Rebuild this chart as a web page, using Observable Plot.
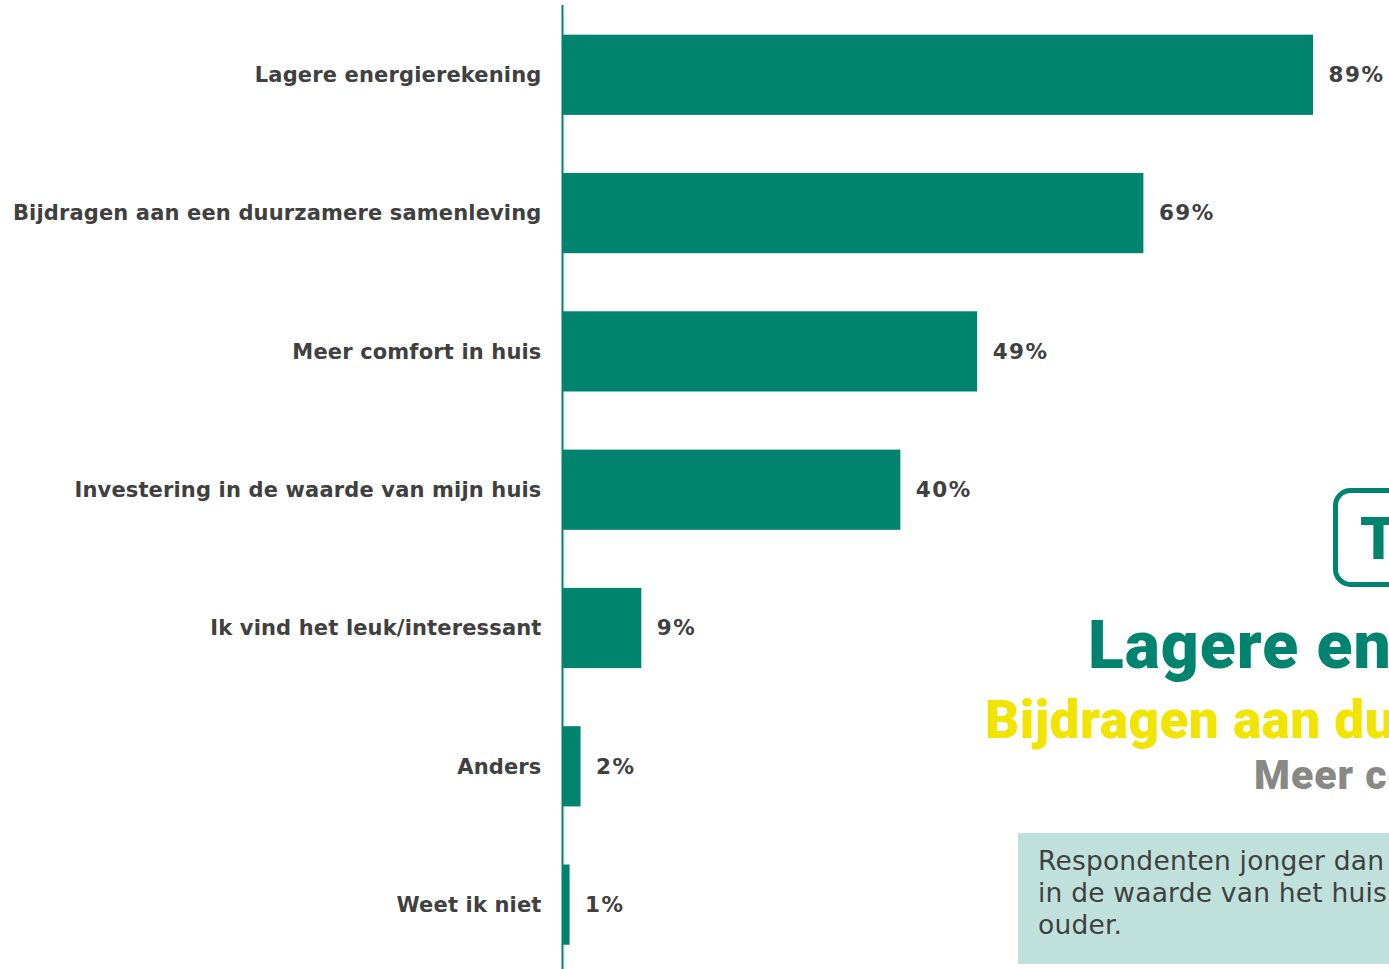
<!DOCTYPE html>
<html>
<head>
<meta charset="utf-8">
<script src="https://cdn.jsdelivr.net/npm/d3@7"></script>
<script src="https://cdn.jsdelivr.net/npm/@observablehq/plot@0.6"></script>
<style>
  html, body { margin: 0; padding: 0; background: #fff; }
  body { width: 1389px; height: 969px; overflow: hidden; position: relative; }
  #chart { position: absolute; left: 0; top: 0; }
  #overlay { position: absolute; left: 0; top: 0; pointer-events: none; }
</style>
</head>
<body>
<div id="chart"></div>
<svg id="overlay" width="1389" height="969" xmlns="http://www.w3.org/2000/svg">
  <rect x="1335.5" y="490.5" width="120" height="94" rx="15" ry="15" fill="none" stroke="#00846f" stroke-width="5"/>
  <text x="1360" y="559" font-family="Roboto" font-weight="900" font-size="59" fill="#00846f">TOP 3</text>
  <text x="1088" y="668" font-family="Roboto" font-weight="900" font-size="66" letter-spacing="1" fill="#00846f">Lagere energierekening</text>
  <text x="985" y="738" font-family="Roboto" font-weight="900" font-size="53" letter-spacing="0.5" fill="#f0e400">Bijdragen aan duurzaamheid</text>
  <text x="1254" y="789" font-family="Roboto" font-weight="900" font-size="41" letter-spacing="1" fill="#888884">Meer comfort</text>
  <rect x="1018" y="833" width="400" height="131" fill="#bfe0db"/>
  <g font-family="DejaVu Sans" font-size="26.5" letter-spacing="0.2" fill="#404040">
    <text x="1038" y="870">Respondenten jonger dan</text>
    <text x="1038" y="902">in de waarde van het huis</text>
    <text x="1038" y="934">ouder.</text>
  </g>
</svg>
<script>
const categories = [
  "Lagere energierekening",
  "Bijdragen aan een duurzamere samenleving",
  "Meer comfort in huis",
  "Investering in de waarde van mijn huis",
  "Ik vind het leuk/interessant",
  "Anders",
  "Weet ik niet"
];
// bar lengths (percent)
const values = [89, 68.9, 49.2, 40.1, 9.4, 2.2, 0.9];

const data = categories.map((label, i) => ({label, value: values[i]}));

const teal = "#00846f";
const textColor = "#404040";

const chart = Plot.plot({
  width: 1389,
  height: 969,
  marginLeft: 562,
  marginRight: 76,
  marginTop: 5,
  marginBottom: 0,
  style: {fontFamily: "DejaVu Sans", background: "transparent"},
  x: {domain: [0, 89], axis: null},
  y: {domain: categories, axis: null, paddingInner: 0.42, paddingOuter: 0.195, align: 0.55, round: false},
  marks: [
    Plot.barX(data, {x: "value", y: "label", fill: teal}),
    Plot.ruleX([0], {stroke: teal, strokeWidth: 2}),
    Plot.text(data, {
      x: "value", y: "label", text: d => Math.round(d.value) + "%",
      textAnchor: "start", dx: 15, fontSize: 21.5, fontWeight: "bold", fill: textColor
    }),
    Plot.text(data, {
      x: 0, y: "label", text: "label",
      textAnchor: "end", dx: -21, fontSize: 21, fontWeight: "bold", fill: textColor
    })
  ]
});
const textGroups = chart.querySelectorAll('g[aria-label="text"]');
if (textGroups[0]) textGroups[0].setAttribute("letter-spacing", "1.5");
if (textGroups[1]) textGroups[1].setAttribute("letter-spacing", "0.15");
document.getElementById("chart").appendChild(chart);
</script>
</body>
</html>
